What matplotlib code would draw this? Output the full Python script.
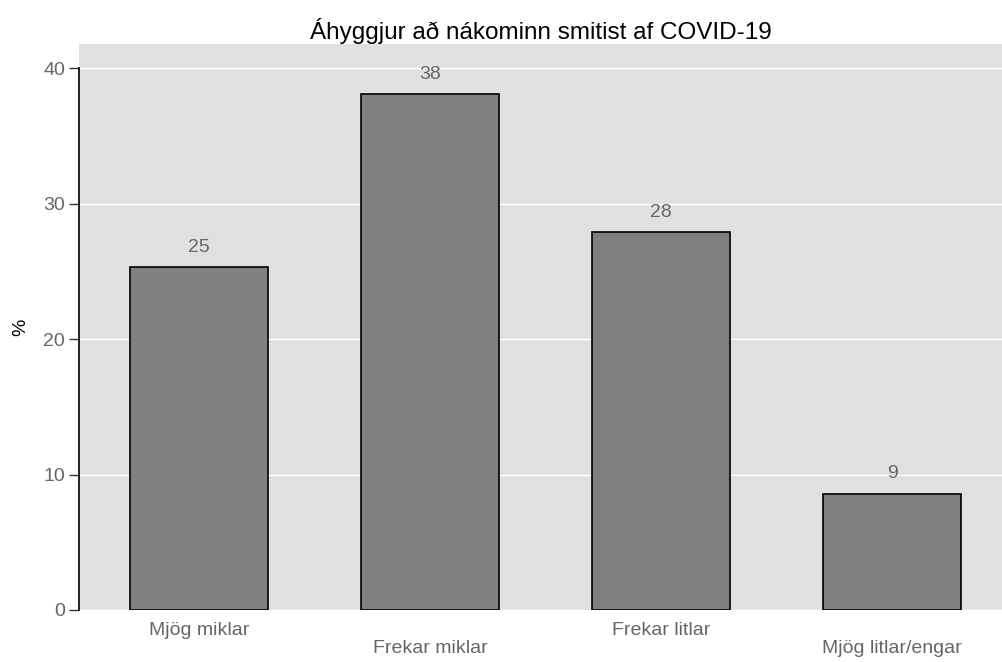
import matplotlib
matplotlib.use("Agg")
import matplotlib.pyplot as plt

categories = ["Mjög miklar", "Frekar miklar", "Frekar litlar", "Mjög litlar/engar"]
values = [25.3, 38.1, 27.9, 8.6]
yticks = [0, 10, 20, 30, 40]
title = "Áhyggjur að nákominn smitist af COVID-19"

plt.rcParams['font.family'] = ['Liberation Sans', 'DejaVu Sans']

fig = plt.figure(figsize=(10.03, 6.62), dpi=100)
W, H = 1003, 662
ax = fig.add_axes([79 / W, (H - 610) / H, (1002 - 79) / W, (610 - 44) / H])
ax.set_facecolor("#e0e0e0")

x = list(range(len(categories)))
bars = ax.bar(x, values, width=0.6, color="#808080", edgecolor="black", linewidth=1.2, zorder=3)
for xi, v in zip(x, values):
    ax.text(xi, v + 0.85, f"{round(v):d}", ha="center", va="bottom", fontsize=14, color="#666666", zorder=4)

ax.set_xlim(-0.519, 3.476)
ax.set_ylim(0, 41.8)
ax.set_yticks(yticks)
ax.set_yticklabels([str(t) for t in yticks])
ax.set_xticks(x)
ax.set_xticklabels(categories)
ax.yaxis.grid(True, color="white", linewidth=1.0, zorder=0)
ax.set_axisbelow(True)

for s in ["top", "right", "bottom"]:
    ax.spines[s].set_visible(False)
ax.spines["left"].set_bounds(0, 40)
ax.spines["left"].set_linewidth(1.2)
ax.spines["left"].set_color("black")

ax.tick_params(axis="y", length=7, width=1, color="#333333", labelsize=14, labelcolor="#666666", pad=3)
ax.tick_params(axis="x", length=0, labelsize=14, labelcolor="#666666", pad=8.5)
for i, t in enumerate(ax.xaxis.get_major_ticks()):
    if i % 2 == 1:
        t.set_pad(21.5)

ax.set_ylabel("%", fontsize=14, color="black", labelpad=10)
ax.set_title(title, fontsize=17.5, color="black", pad=3.5)

fig.savefig("out.png", dpi=100)
